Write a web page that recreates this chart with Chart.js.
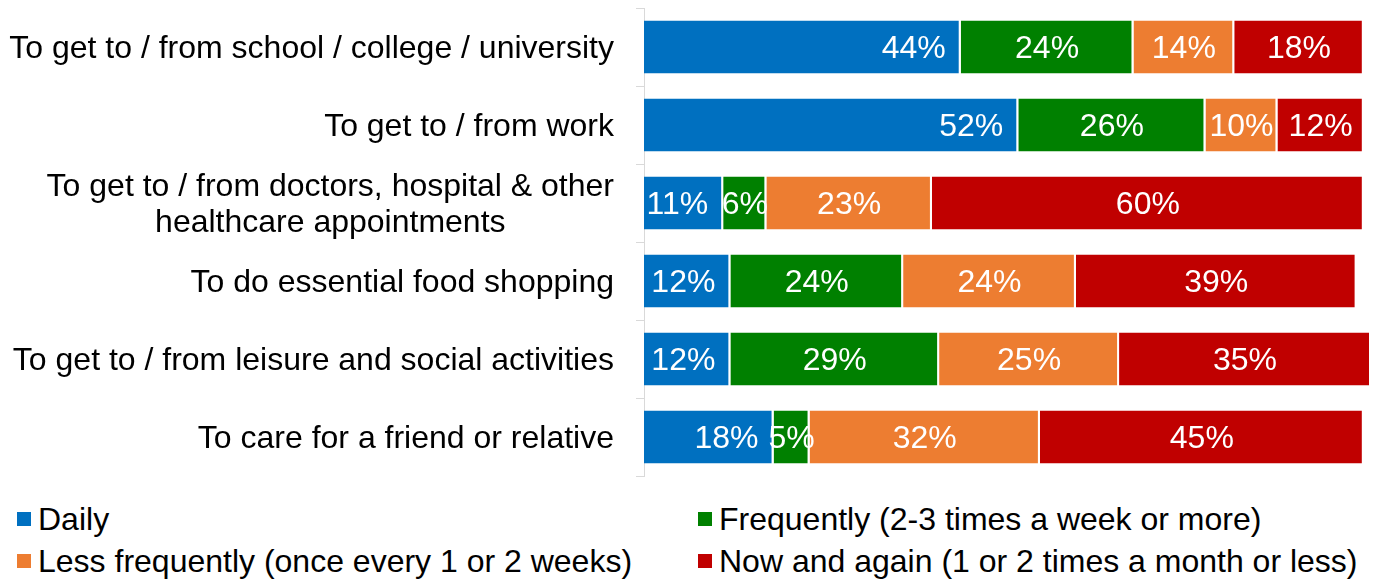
<!DOCTYPE html>
<html lang="en">
  <head>
    <meta charset="UTF-8" />
    <title>Journey purposes</title>
    <style>
      body {
        margin: 0;
        background: white;
        font-family: "Liberation Sans", Arial, sans-serif;
      }
      .wrap {
        position: relative;
        width: 1375px;
        height: 580px;
      }
      .chart-box {
        position: absolute;
        left: 0;
        top: 0;
        width: 1375px;
        height: 484px;
      }
      .legend {
        position: absolute;
        left: 17px;
        top: 499px;
        display: grid;
        grid-template-columns: 681px 660px;
        row-gap: 2px;
        font-size: 32px;
        color: #000;
        white-space: nowrap;
      }
      .legend span {
        display: flex;
        align-items: center;
        height: 40px;
      }
      .legend i {
        display: inline-block;
        width: 14px;
        height: 14px;
        margin-right: 7px;
      }
    </style>
    <script src="https://cdn.jsdelivr.net/npm/chart.js"></script>
  </head>
  <body>
    <div class="wrap">
      <div class="chart-box"><canvas id="purposeChart"></canvas></div>
      <div class="legend" id="legend"></div>
    </div>

    <script>
      const categories = [
        "To get to / from school / college / university",
        "To get to / from work",
        ["To get to / from doctors, hospital & other", "healthcare appointments"],
        "To do essential food shopping",
        "To get to / from leisure and social activities",
        "To care for a friend or relative",
      ];
      const seriesNames = [
        "Daily",
        "Frequently (2-3 times a week or more)",
        "Less frequently (once every 1 or 2 weeks)",
        "Now and again (1 or 2 times a month or less)",
      ];
      const daily = [44, 52, 11, 12, 12, 18];
      const frequently = [24, 26, 6, 24, 29, 5];
      const lessFrequently = [14, 10, 23, 24, 25, 32];
      const nowAndAgain = [18, 12, 60, 39, 35, 45];
      const colors = ["#0070C0", "#008000", "#ED7D31", "#C00000"];

      const FONT = '"Liberation Sans", Arial, sans-serif';

      // percent labels: first series sits at the inner end, the rest centred
      const barLabels = {
        id: "barLabels",
        afterDatasetsDraw(chart) {
          const ctx = chart.ctx;
          ctx.save();
          ctx.font = "32px " + FONT;
          ctx.fillStyle = "#fff";
          ctx.textBaseline = "middle";
          chart.data.datasets.forEach((ds, di) => {
            const meta = chart.getDatasetMeta(di);
            meta.data.forEach((bar, i) => {
              const txt = ds.data[i] + "%";
              if (di === 0) {
                ctx.textAlign = "right";
                ctx.fillText(txt, bar.x - 15, bar.y + 2);
              } else {
                ctx.textAlign = "center";
                ctx.fillText(txt, (bar.x + bar.base) / 2, bar.y + 2);
              }
            });
          });
          ctx.restore();
        },
      };

      // category labels: block right aligned, lines centred on each other
      const catLabels = {
        id: "catLabels",
        afterDraw(chart) {
          const ctx = chart.ctx;
          const y = chart.scales.y;
          const right = chart.chartArea.left - 30;
          ctx.save();
          ctx.font = "32px " + FONT;
          ctx.fillStyle = "#000";
          ctx.textBaseline = "middle";
          ctx.textAlign = "center";
          categories.forEach((label, i) => {
            const lines = Array.isArray(label) ? label : [label];
            const w = Math.max(...lines.map((l) => ctx.measureText(l).width));
            const cy = y.getPixelForTick(i) + 2;
            const lh = 36;
            lines.forEach((l, k) => {
              const ly = cy + (k - (lines.length - 1) / 2) * lh;
              ctx.fillText(l, right - w / 2, ly);
            });
          });
          ctx.restore();
        },
      };

      const seriesData = [daily, frequently, lessFrequently, nowAndAgain];

      new Chart(document.getElementById("purposeChart"), {
        type: "bar",
        data: {
          labels: categories,
          datasets: seriesData.map((d, i) => ({
            label: seriesNames[i],
            data: d,
            backgroundColor: colors[i],
            borderColor: "#fff",
            borderWidth: { top: 0, bottom: 0, left: 0, right: 2 },
            borderSkipped: false,
            categoryPercentage: 0.68,
            barPercentage: 1,
          })),
        },
        options: {
          indexAxis: "y",
          responsive: true,
          maintainAspectRatio: false,
          animation: false,
          layout: { padding: { top: 8, bottom: 8, right: 4, left: 0 } },
          scales: {
            x: {
              stacked: true,
              min: 0,
              max: 101,
              display: false,
            },
            y: {
              stacked: true,
              afterFit(scale) {
                scale.width = 644;
              },
              ticks: { display: false },
              grid: {
                drawOnChartArea: false,
                drawTicks: true,
                tickLength: 8,
                color: "#D9D9D9",
                offset: true,
              },
              border: { display: true, color: "#D9D9D9", width: 1 },
            },
          },
          plugins: {
            legend: { display: false },
            tooltip: { enabled: false },
          },
        },
        plugins: [barLabels, catLabels],
      });

      const legendEl = document.getElementById("legend");
      seriesNames.forEach((name, i) => {
        const item = document.createElement("span");
        const box = document.createElement("i");
        box.style.background = colors[i];
        item.appendChild(box);
        item.appendChild(document.createTextNode(name));
        legendEl.appendChild(item);
      });
    </script>
  </body>
</html>
